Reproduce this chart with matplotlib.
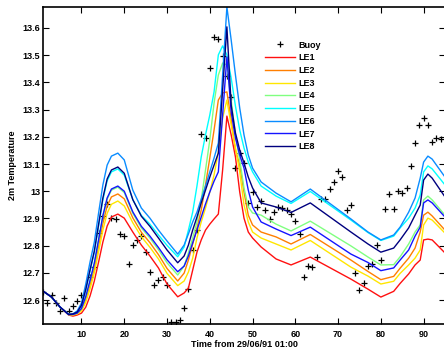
import numpy as np
import matplotlib
matplotlib.use('Agg')
import matplotlib.pyplot as plt

plt.rcParams['font.family'] = ['Liberation Sans', 'DejaVu Sans']
plt.rcParams['font.weight'] = 'bold'
plt.rcParams['font.size'] = 6.5

# model time axis (hours from 29/06/91 01:00)
t = [1, 3, 5, 7, 8, 9, 10, 11, 12, 13, 14, 15, 16, 17, 18.5, 20, 22, 24, 26, 28, 30, 32.5,
     34, 35, 36, 37, 38, 39, 40, 41, 42, 43, 44, 45, 46, 47, 48, 49, 50, 52, 55.5, 59, 63.5,
     73, 77, 80, 83, 84.5, 86.5, 88, 89.2, 90, 91, 92, 95]

le1 = [12.633, 12.611, 12.574, 12.545, 12.541, 12.545, 12.552, 12.574, 12.615, 12.670, 12.740,
       12.813, 12.872, 12.905, 12.916, 12.901, 12.850, 12.802, 12.762, 12.718, 12.659, 12.612,
       12.626, 12.644, 12.710, 12.776, 12.821, 12.857, 12.879, 12.898, 12.916, 13.078, 13.276,
       13.207, 13.126, 12.997, 12.901, 12.850, 12.828, 12.795, 12.751, 12.729, 12.758,
       12.677, 12.640, 12.611, 12.632, 12.661, 12.696, 12.729, 12.747, 12.821, 12.824, 12.821, 12.773]
le2 = [12.633, 12.611, 12.574, 12.547, 12.547, 12.550, 12.564, 12.602, 12.656, 12.717, 12.799,
       12.882, 12.946, 12.979, 12.990, 12.972, 12.902, 12.849, 12.811, 12.767, 12.716, 12.670,
       12.699, 12.747, 12.806, 12.865, 12.931, 13.023, 13.122, 13.225, 13.335, 13.361, 13.365,
       13.262, 13.151, 13.096, 12.997, 12.912, 12.876, 12.850, 12.832, 12.806, 12.841,
       12.747, 12.705, 12.675, 12.687, 12.717, 12.754, 12.791, 12.850, 12.912, 12.923, 12.909, 12.857]
le3 = [12.633, 12.611, 12.574, 12.547, 12.545, 12.549, 12.560, 12.592, 12.641, 12.700, 12.778,
       12.857, 12.919, 12.952, 12.964, 12.946, 12.884, 12.833, 12.794, 12.751, 12.698, 12.653,
       12.670, 12.703, 12.754, 12.828, 12.887, 12.938, 12.997, 13.060, 13.144, 13.269, 13.335,
       13.243, 13.159, 13.071, 12.949, 12.887, 12.850, 12.828, 12.806, 12.784, 12.819,
       12.721, 12.688, 12.659, 12.669, 12.698, 12.729, 12.754, 12.784, 12.876, 12.901, 12.894, 12.846]
le4 = [12.633, 12.611, 12.574, 12.547, 12.547, 12.552, 12.568, 12.611, 12.670, 12.733, 12.819,
       12.905, 12.971, 13.004, 13.015, 12.995, 12.919, 12.865, 12.828, 12.785, 12.737, 12.692,
       12.725, 12.773, 12.828, 12.887, 12.968, 13.078, 13.188, 13.324, 13.427, 13.471, 13.464,
       13.335, 13.207, 13.115, 13.012, 12.942, 12.920, 12.912, 12.879, 12.854, 12.890,
       12.799, 12.758, 12.729, 12.730, 12.759, 12.806, 12.850, 12.876, 12.968, 12.982, 12.968, 12.912]
le5 = [12.633, 12.611, 12.574, 12.547, 12.549, 12.558, 12.579, 12.637, 12.707, 12.776, 12.873,
       12.968, 13.038, 13.071, 13.082, 13.059, 12.969, 12.911, 12.879, 12.839, 12.801, 12.759,
       12.795, 12.857, 12.923, 13.019, 13.126, 13.207, 13.280, 13.365, 13.501, 13.534, 13.501,
       13.416, 13.313, 13.225, 13.159, 13.107, 13.071, 13.019, 12.982, 12.955, 12.999,
       12.894, 12.848, 12.819, 12.835, 12.865, 12.901, 12.938, 12.986, 13.071, 13.093, 13.082, 13.023]
le6 = [12.633, 12.611, 12.574, 12.547, 12.549, 12.560, 12.589, 12.659, 12.740, 12.813, 12.920,
       13.023, 13.096, 13.129, 13.140, 13.115, 13.004, 12.938, 12.901, 12.857, 12.817, 12.769,
       12.802, 12.843, 12.887, 12.923, 12.971, 13.019, 13.071, 13.122, 13.177, 13.427, 13.677,
       13.556, 13.427, 13.306, 13.207, 13.133, 13.085, 13.034, 12.993, 12.961, 13.008,
       12.898, 12.850, 12.821, 12.839, 12.868, 12.923, 12.975, 13.048, 13.107, 13.129, 13.118, 13.052]
le7 = [12.633, 12.611, 12.574, 12.547, 12.547, 12.552, 12.569, 12.613, 12.672, 12.736, 12.822,
       12.910, 12.975, 13.008, 13.019, 13.000, 12.924, 12.871, 12.835, 12.793, 12.748, 12.704,
       12.725, 12.762, 12.810, 12.857, 12.905, 12.953, 12.997, 13.037, 13.071, 13.280, 13.493,
       13.291, 13.196, 13.133, 13.085, 13.004, 12.942, 12.887, 12.861, 12.837, 12.868,
       12.769, 12.738, 12.708, 12.718, 12.747, 12.784, 12.835, 12.868, 12.957, 12.968, 12.957, 12.905]
le8 = [12.633, 12.611, 12.574, 12.547, 12.549, 12.556, 12.581, 12.639, 12.711, 12.780, 12.878,
       12.975, 13.045, 13.078, 13.089, 13.066, 12.969, 12.908, 12.871, 12.828, 12.784, 12.737,
       12.762, 12.802, 12.857, 12.905, 12.957, 13.004, 13.052, 13.096, 13.140, 13.372, 13.604,
       13.317, 13.214, 13.151, 13.104, 13.052, 13.012, 12.957, 12.942, 12.922, 12.957,
       12.850, 12.806, 12.776, 12.791, 12.821, 12.865, 12.912, 12.949, 13.041, 13.063, 13.048, 12.979]

# buoy observations
buoy_t = [1, 2, 3, 4, 5, 6, 7, 8, 9, 10, 12, 13, 14, 15, 16, 17, 18, 19, 20, 21, 22, 23, 24,
          25, 26, 27, 28, 29, 30, 31, 32, 33, 34, 35, 36, 37, 38, 39, 40, 41, 42, 43, 44, 45,
          46, 47, 48, 49, 50, 51, 52, 53, 54, 55, 56, 57, 58, 59, 60, 61, 62, 63, 64, 65, 66,
          67, 68, 69, 70, 71, 72, 73, 74, 75, 76, 77, 78, 79, 80, 81, 82, 83, 84, 85, 86, 87,
          88, 89, 90, 91, 92, 93, 94]
buoy_v = [12.629, 12.591, 12.617, 12.588, 12.560, 12.606, 12.561, 12.579, 12.598, 12.617,
          12.686, 12.722, 12.845, 12.910, 12.953, 12.903, 12.898, 12.843, 12.835, 12.731,
          12.802, 12.821, 12.835, 12.778, 12.704, 12.655, 12.674, 12.686, 12.656, 12.518,
          12.521, 12.527, 12.570, 12.641, 12.784, 12.858, 13.209, 13.195, 13.454, 13.568,
          13.560, 13.497, 13.424, 13.347, 13.084, 13.139, 13.103, 12.955, 12.998, 12.941,
          12.965, 12.931, 12.899, 12.925, 12.941, 12.937, 12.931, 12.916, 12.890, 12.843,
          12.685, 12.726, 12.720, 12.757, 12.971, 12.971, 13.008, 13.033, 13.073, 13.053,
          12.931, 12.949, 12.700, 12.637, 12.661, 12.726, 12.731, 12.802, 12.747, 12.935,
          12.989, 12.933, 13.002, 12.995, 13.011, 13.093, 13.176, 13.243, 13.270, 13.243,
          13.182, 13.194, 13.192]

names = ['LE1', 'LE2', 'LE3', 'LE4', 'LE5', 'LE6', 'LE7', 'LE8']
series = [le1, le2, le3, le4, le5, le6, le7, le8]
colors = ['#ff1010', '#ff7f00', '#ffe600', '#80ff80', '#00ffff', '#0a8cff', '#1414ff', '#00007f']

fig = plt.figure(figsize=(4.44, 3.48), dpi=100)
ax = fig.add_axes([43 / 444, 24 / 348, 402 / 444, 317 / 348])

ax.plot(buoy_t, buoy_v, '+', color='black', markersize=4.5, mew=0.9, label='Buoy')
for name, vals, c in zip(names, series, colors):
    ax.plot(t, vals, color=c, lw=1.0, label=name)

ax.set_xlim(1, 95)
ax.set_ylim(12.512, 13.677)
ax.set_xticks(range(10, 100, 10))
ax.set_yticks(np.arange(12.6, 13.65, 0.1))
ax.yaxis.set_major_formatter(matplotlib.ticker.FuncFormatter(lambda v, p: '%g' % round(v, 1)))
ax.tick_params(direction='in', length=4, width=0.8, top=True, right=True, labelsize=6.5)
ax.tick_params(axis='y', pad=2)
ax.tick_params(axis='x', pad=4)
for s in ax.spines.values():
    s.set_linewidth(1.2)

ax.set_xlabel('Time from 29/06/91 01:00', fontsize=6.5, fontweight='bold', labelpad=1)
ax.set_ylabel('2m Temperature', fontsize=6.5, fontweight='bold', labelpad=4)

ax.legend(loc='upper left', bbox_to_anchor=(0.552, 0.894), frameon=False,
          borderpad=0, borderaxespad=0, handlelength=3.3, handletextpad=0.4,
          labelspacing=0.41, prop={'weight': 'bold', 'size': 6.5})

fig.savefig('out.png', dpi=100)
